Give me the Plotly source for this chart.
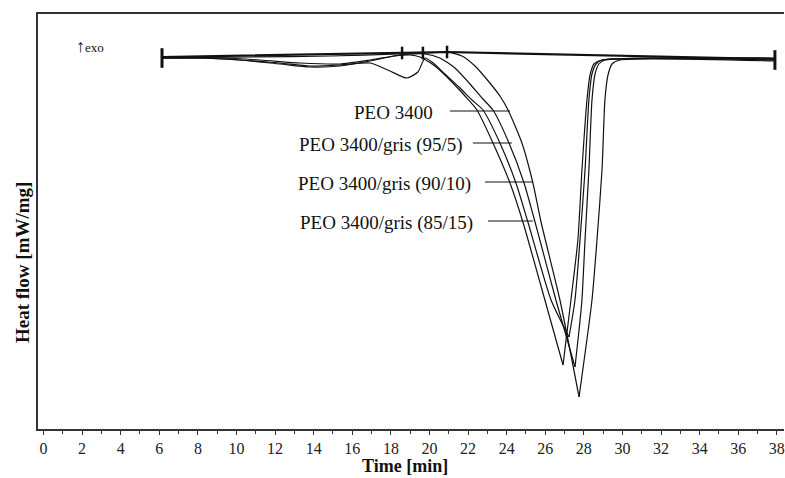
import plotly.graph_objects as go

# ---- data (time in min, heat flow in mW/mg) ----
# PEO 3400
t_peo_down = [6.14, 10.70, 14.84, 18.47, 20.02, 20.91, 21.68, 22.36, 23.13, 23.65, 24.07, 24.79, 25.36, 25.78, 26.76, 27.75]
hf_peo_down = [-0.01, 0.00, 0.01, 0.03, 0.04, 0.05, 0.01, -0.09, -0.26, -0.39, -0.53, -0.86, -1.26, -1.65, -2.43, -3.40]
t_peo_up = [27.75, 28.42, 28.68, 28.94, 29.09, 29.25, 29.46, 29.87, 37.90]
hf_peo_up = [-3.40, -2.43, -1.83, -1.13, -0.43, -0.18, -0.07, -0.03, -0.04]

# PEO 3400/gris (95/5)
t_95_down = [6.14, 9.15, 11.22, 13.29, 15.36, 16.92, 18.47, 19.77, 20.54, 21.32, 22.10, 22.72, 23.29, 24.12, 24.90, 25.47, 26.55, 27.54]
hf_95_down = [-0.01, -0.01, -0.03, -0.06, -0.07, -0.03, 0.02, 0.03, -0.01, -0.11, -0.27, -0.41, -0.53, -0.86, -1.26, -1.65, -2.43, -3.10]
t_95_up = [27.54, 27.75, 27.90, 28.06, 28.26, 28.42, 28.58, 28.78, 29.09, 37.90]
hf_95_up = [-3.10, -2.73, -2.43, -1.83, -1.13, -0.43, -0.17, -0.07, -0.03, -0.03]

# PEO 3400/gris (90/10)
t_90_down = [6.14, 8.11, 10.18, 12.25, 13.81, 15.36, 16.92, 17.95, 18.83, 19.40, 19.77, 20.13, 20.80, 21.58, 22.20, 22.77, 23.65, 24.48, 25.10, 26.30, 27.23]
hf_90_down = [-0.01, -0.01, -0.03, -0.06, -0.09, -0.08, -0.06, -0.14, -0.21, -0.15, -0.01, -0.05, -0.17, -0.31, -0.43, -0.53, -0.86, -1.26, -1.65, -2.43, -2.80]
t_90_up = [27.23, 27.54, 27.80, 28.06, 28.26, 28.42, 28.63, 28.94, 37.90]
hf_90_up = [-2.80, -2.43, -1.83, -1.13, -0.43, -0.17, -0.07, -0.03, -0.02]

# PEO 3400/gris (85/15)
t_85_down = [6.14, 8.11, 10.18, 12.25, 13.81, 15.36, 16.92, 18.21, 18.99, 19.51, 20.28, 21.06, 21.84, 22.46, 23.29, 24.17, 24.84, 25.98, 26.92]
hf_85_down = [-0.01, -0.01, -0.03, -0.07, -0.10, -0.09, -0.04, 0.01, 0.02, 0.00, -0.09, -0.23, -0.39, -0.53, -0.86, -1.26, -1.65, -2.43, -3.08]
t_85_up = [26.92, 27.33, 27.69, 27.90, 28.16, 28.32, 28.52, 28.94, 37.90]
hf_85_up = [-3.08, -2.43, -1.83, -1.13, -0.43, -0.18, -0.07, -0.03, -0.01]

# integration baseline and limit markers
t_base = [6.14, 20.91, 37.90]
hf_base = [0.00, 0.05, -0.02]
t_end_marks = [6.14, 37.90]
hf_end_marks = [-0.01, -0.03]
t_lim_marks = [18.58, 19.66, 20.91]
hf_lim_marks = [0.04, 0.04, 0.05]

# labels and their pointer lines
labels = ["PEO 3400", "PEO 3400/gris (95/5)", "PEO 3400/gris (90/10)", "PEO 3400/gris (85/15)"]
label_t = [20.28, 21.84, 22.25, 22.36]
label_hf = [-0.55, -0.88, -1.27, -1.66]
ptr_t0 = [21.06, 22.25, 22.88, 23.03]
ptr_t1 = [24.17, 24.27, 25.36, 25.36]
ptr_hf = [-0.54, -0.86, -1.25, -1.64]

x_ticks = list(range(0, 39, 2))

SERIF = "Liberation Serif, Times New Roman, serif"

fig = go.Figure()

segments = [
    (t_peo_down, hf_peo_down), (t_peo_up, hf_peo_up),
    (t_95_down, hf_95_down), (t_95_up, hf_95_up),
    (t_90_down, hf_90_down), (t_90_up, hf_90_up),
    (t_85_down, hf_85_down), (t_85_up, hf_85_up),
]
for tx, hy in segments:
    fig.add_trace(go.Scatter(x=tx, y=hy, mode="lines",
                             line=dict(color="#111", width=1.2, shape="spline", smoothing=0.6),
                             showlegend=False, hoverinfo="skip"))

fig.add_trace(go.Scatter(x=t_base, y=hf_base, mode="lines",
                         line=dict(color="#111", width=2.2), showlegend=False, hoverinfo="skip"))
fig.add_trace(go.Scatter(x=t_end_marks, y=hf_end_marks, mode="markers",
                         marker=dict(symbol="line-ns", size=14, line=dict(color="#111", width=3)),
                         showlegend=False, hoverinfo="skip"))
fig.add_trace(go.Scatter(x=t_lim_marks, y=hf_lim_marks, mode="markers",
                         marker=dict(symbol="line-ns", size=9, line=dict(color="#111", width=2.5)),
                         showlegend=False, hoverinfo="skip"))

annotations = []
shapes = []
for lab, lt, lh, a, b, ph in zip(labels, label_t, label_hf, ptr_t0, ptr_t1, ptr_hf):
    annotations.append(dict(x=lt, y=lh, xref="x", yref="y", text=lab, showarrow=False,
                            xanchor="right", yanchor="middle",
                            font=dict(family=SERIF, size=19, color="#111")))
    shapes.append(dict(type="line", xref="x", yref="y", x0=a, x1=b, y0=ph, y1=ph,
                       line=dict(color="#111", width=1.2)))

annotations.append(dict(x=1.6, y=0.11, xref="x", yref="y",
                        text='<span style="font-size:18px">↑</span>exo', showarrow=False,
                        xanchor="left", yanchor="middle",
                        font=dict(family=SERIF, size=13, color="#111")))
annotations.append(dict(x=0.492, y=-0.089, xref="paper", yref="paper", text="<b>Time [min]</b>",
                        showarrow=False, xanchor="center", yanchor="middle",
                        font=dict(family=SERIF, size=18, color="#111")))
annotations.append(dict(x=-0.0214, y=0.40, xref="paper", yref="paper", text="<b>Heat flow [mW/mg]</b>",
                        showarrow=False, xanchor="center", yanchor="middle", textangle=-90,
                        font=dict(family=SERIF, size=19, color="#111")))

fig.update_layout(
    width=785, height=478,
    margin=dict(l=38, r=1, t=14, b=49, autoexpand=False),
    paper_bgcolor="white", plot_bgcolor="white",
    annotations=annotations, shapes=shapes,
    showlegend=False,
)
fig.update_xaxes(range=[-0.285, 38.37], showgrid=False, zeroline=False,
                 showline=True, linecolor="#333", linewidth=1.5, mirror=True,
                 tickmode="array", tickvals=x_ticks, ticktext=[str(v) for v in x_ticks],
                 ticks="outside", ticklen=4, tickwidth=1.2, tickcolor="#333",
                 ticklabeloverflow="allow",
                 minor=dict(dtick=1, ticks="outside", ticklen=3, tickwidth=1, tickcolor="#333"),
                 tickfont=dict(family=SERIF, size=16, color="#222"))
fig.update_yaxes(range=[-3.72, 0.43], showgrid=False, zeroline=False,
                 showline=True, linecolor="#333", linewidth=1.5, mirror=False,
                 showticklabels=False, ticks="")

# remove the default 8px page margin so the figure fills the window exactly
fig.write_html("out.html",
               config={"displayModeBar": False},
               post_script="document.body.style.margin='0';document.body.style.overflow='hidden';")
